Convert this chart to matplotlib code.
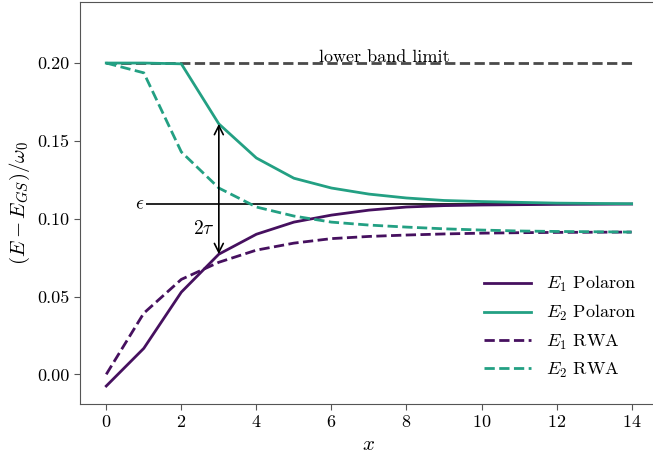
import matplotlib
matplotlib.use("Agg")
import matplotlib.pyplot as plt
import numpy as np

plt.rcParams["font.family"] = "serif"
plt.rcParams["font.serif"] = ["cmr10"]
plt.rcParams["mathtext.fontset"] = "cm"
plt.rcParams["axes.formatter.use_mathtext"] = True

x = np.arange(0, 15)

e1_polaron = [-0.0075, 0.0167, 0.0528, 0.0772, 0.0900, 0.0978, 0.1023, 0.1055,
              0.1075, 0.1084, 0.1088, 0.1090, 0.1092, 0.1093, 0.1094]
e2_polaron = [0.2000, 0.2000, 0.1995, 0.1609, 0.1390, 0.1260, 0.1197, 0.1158,
              0.1133, 0.1117, 0.1110, 0.1105, 0.1100, 0.1098, 0.1096]
e1_rwa = [0.0000, 0.0393, 0.0610, 0.0720, 0.0798, 0.0843, 0.0872, 0.0886,
          0.0895, 0.0902, 0.0907, 0.0910, 0.0912, 0.0913, 0.0914]
e2_rwa = [0.2000, 0.1937, 0.1429, 0.1197, 0.1075, 0.1017, 0.0978, 0.0959,
          0.0946, 0.0935, 0.0927, 0.0921, 0.0918, 0.0916, 0.0914]

band_limit = 0.2
epsilon = 0.1094
arrow_x = 3

c1 = "#46105f"
c2 = "#23a083"

fig = plt.figure(figsize=(6.53, 4.59), dpi=100)
ax = fig.add_axes([0.1225, 0.12, 0.885, 0.8756])

ax.plot(x, [band_limit] * len(x), color="#4a4a4a", lw=2, ls="--", zorder=1)
ax.text(7.4, band_limit + 0.0004, "lower band limit", ha="center", va="baseline", fontsize=13)

ax.hlines(epsilon, 1.05, 14, color="black", lw=1.2, zorder=1)
ax.text(0.9, epsilon, r"$\epsilon$", ha="center", va="center", fontsize=14)

ax.plot(x, e1_polaron, color=c1, lw=2, label=r"$E_1$ Polaron")
ax.plot(x, e2_polaron, color=c2, lw=2, label=r"$E_2$ Polaron")
ax.plot(x, e1_rwa, color=c1, lw=2, ls="--", label=r"$E_1$ RWA")
ax.plot(x, e2_rwa, color=c2, lw=2, ls="--", label=r"$E_2$ RWA")

ax.annotate("", xy=(arrow_x, e2_polaron[arrow_x]), xytext=(arrow_x, e1_polaron[arrow_x]),
            arrowprops=dict(arrowstyle="<->", color="black", lw=1.2, shrinkA=0, shrinkB=0,
                            mutation_scale=16))
ax.text(2.9, 0.0935, r"$2\tau$", ha="right", va="center", fontsize=14)

ax.set_xlim(-0.7, 14.7)
ax.set_ylim(-0.019, 0.2392)
ax.set_xticks(np.arange(0, 15, 2))
ax.set_yticks([0.0, 0.05, 0.10, 0.15, 0.20])
ax.set_yticklabels(["0.00", "0.05", "0.10", "0.15", "0.20"])
ax.tick_params(labelsize=13, color="#555555", length=4)
for s in ax.spines.values():
    s.set_color("#555555")
ax.spines["right"].set_visible(False)
ax.set_xlabel(r"$x$", fontsize=15)
ax.set_ylabel(r"$(E - E_{GS})/\omega_0$", fontsize=15)

ax.legend(loc="lower right", frameon=False, fontsize=13, handlelength=2.6,
          bbox_to_anchor=(0.99, 0.02))

fig.savefig("out.png", dpi=100)
